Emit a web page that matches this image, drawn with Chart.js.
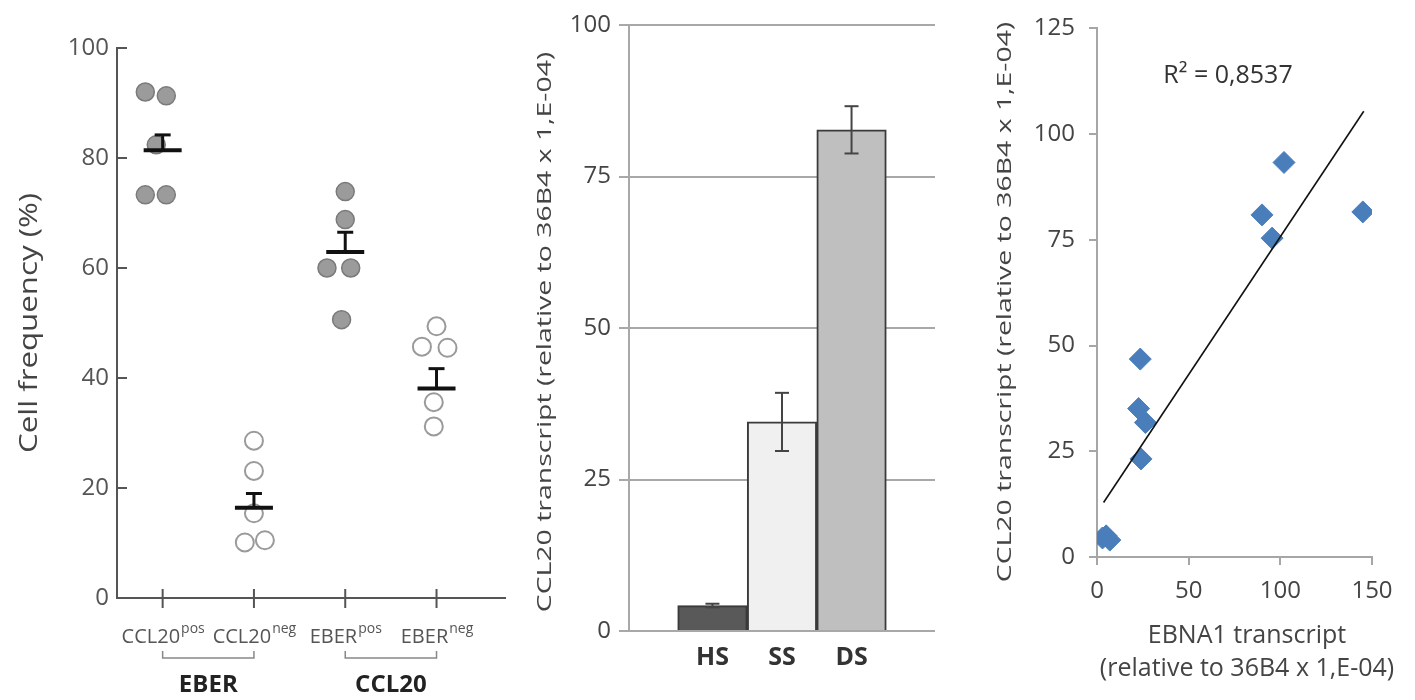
<!DOCTYPE html>
<html>
<head>
<meta charset="utf-8">
<script src="https://cdn.jsdelivr.net/npm/chart.js@4"></script>
<style>
  body { margin: 0; background: #fff; width: 1415px; height: 700px; position: relative; overflow: hidden; }
  canvas { position: absolute; top: 0; }
</style>
</head>
<body>
<canvas id="freq" width="520" height="700" style="left:0"></canvas>
<canvas id="bars" width="430" height="700" style="left:520px"></canvas>
<canvas id="corr" width="465" height="700" style="left:950px"></canvas>
<script>
const F = '"Open Sans", sans-serif';

// panel 1 : cell frequency
const groupNames = ["CCL20", "CCL20", "EBER", "EBER"];
const groupSup = ["pos", "neg", "pos", "neg"];
const pairNames = ["EBER", "CCL20"];
const ccl20Pos = [92.0, 91.3, 82.4, 73.3, 73.3];
const ccl20Neg = [28.6, 23.1, 15.4, 10.1, 10.5];
const eberPos = [73.9, 68.8, 60.0, 60.0, 50.6];
const eberNeg = [49.4, 45.7, 45.5, 35.6, 31.2];
// spread of the dots around the group (category units)
const spreadCcl20Pos = [-0.19, 0.04, -0.07, -0.19, 0.04];
const spreadCcl20Neg = [0, 0, 0, -0.1, 0.12];
const spreadEberPos = [0, 0, -0.2, 0.06, -0.04];
const spreadEberNeg = [0, -0.16, 0.12, -0.03, -0.03];
const freqMean = [81.4, 16.4, 62.9, 38.1];
const freqSem = [2.8, 2.6, 3.6, 3.6];

// panel 2 : CCL20 transcript per group
const barLabels = ["HS", "SS", "DS"];
const barValues = [4.2, 34.5, 82.7];
const barErrors = [0.3, 4.8, 3.9];

// panel 3 : CCL20 vs EBNA1
const ebna1 = [102, 90, 95.5, 145, 23.6, 22.7, 26.4, 24, 3, 5, 7];
const ccl20 = [93.3, 80.9, 75.4, 81.6, 46.8, 35.1, 31.8, 23.2, 4.5, 5, 4];
const trendX = [3.6, 145.5];
const trendY = [12.9, 105.4];
const r2Label = "R² = 0,8537";

const yTitle = "CCL20 transcript (relative to 36B4 x 1,E-04)";

function line(ctx, x1, y1, x2, y2) {
  ctx.beginPath(); ctx.moveTo(x1, y1); ctx.lineTo(x2, y2); ctx.stroke();
}

function vTitle(ctx, text, x, y, size, stretch, color) {
  ctx.save();
  ctx.translate(x, y);
  ctx.rotate(-Math.PI / 2);
  ctx.scale(stretch, 1);
  ctx.font = size + "px " + F;
  ctx.fillStyle = color;
  ctx.textAlign = "center";
  ctx.textBaseline = "middle";
  ctx.fillText(text, 0, 0);
  ctx.restore();
}

const pts = (vals, spread, g) => vals.map((v, i) => ({ x: g + spread[i], y: v }));

// ---------- panel 1 ----------
const freqDeco = {
  id: "freqDeco",
  afterDatasetsDraw(chart) {
    const { ctx, scales: { x, y } } = chart;
    ctx.save();
    ctx.strokeStyle = "#111";
    freqMean.forEach((m, i) => {
      const cx = x.getPixelForValue(i + 1);
      const my = y.getPixelForValue(m);
      const ty = y.getPixelForValue(m + freqSem[i]);
      ctx.lineWidth = 4;
      line(ctx, cx - 19, my, cx + 19, my);
      ctx.lineWidth = 3;
      line(ctx, cx, my, cx, ty);
      line(ctx, cx - 8, ty, cx + 8, ty);
    });
    ctx.restore();
  },
  afterDraw(chart) {
    const { ctx, chartArea: a, scales: { x, y } } = chart;
    ctx.save();
    ctx.strokeStyle = "#555";
    ctx.lineWidth = 2;
    for (let v = 20; v <= 100; v += 20) {
      const py = y.getPixelForValue(v);
      line(ctx, a.left, py, a.left + 10, py);
    }
    groupNames.forEach((name, i) => {
      const px = x.getPixelForValue(i + 1);
      line(ctx, px, a.bottom - 9, px, a.bottom + 10);
      // label with superscript
      ctx.fillStyle = "#555";
      ctx.font = "20px " + F;
      const wMain = ctx.measureText(name).width;
      ctx.font = "14px " + F;
      const wSup = ctx.measureText(groupSup[i]).width;
      const start = px - (wMain + wSup) / 2;
      ctx.textBaseline = "alphabetic";
      ctx.textAlign = "left";
      ctx.font = "20px " + F;
      ctx.fillText(name, start, a.bottom + 45);
      ctx.font = "14px " + F;
      ctx.fillText(groupSup[i], start + wMain + 1, a.bottom + 35);
    });
    ctx.strokeStyle = "#888";
    ctx.lineWidth = 1.5;
    pairNames.forEach((name, k) => {
      const x1 = x.getPixelForValue(2 * k + 1), x2 = x.getPixelForValue(2 * k + 2);
      const yb = a.bottom + 60;
      ctx.beginPath();
      ctx.moveTo(x1, yb - 7); ctx.lineTo(x1, yb); ctx.lineTo(x2, yb); ctx.lineTo(x2, yb - 7);
      ctx.stroke();
      ctx.fillStyle = "#222";
      ctx.font = "bold 24px " + F;
      ctx.textAlign = "center";
      ctx.fillText(name, (x1 + x2) / 2, a.bottom + 94);
    });
    ctx.restore();
    vTitle(ctx, "Cell frequency (%)", 30, (a.top + a.bottom) / 2, 25, 1.25, "#444");
  }
};

new Chart(document.getElementById("freq"), {
  type: "scatter",
  data: {
    datasets: [
      {
        data: pts(ccl20Pos, spreadCcl20Pos, 1).concat(pts(eberPos, spreadEberPos, 3)),
        pointRadius: 9, backgroundColor: "#9b9b9b", borderColor: "#7a7a7a", borderWidth: 1.5
      },
      {
        data: pts(ccl20Neg, spreadCcl20Neg, 2).concat(pts(eberNeg, spreadEberNeg, 4)),
        pointRadius: 9, backgroundColor: "#fff", borderColor: "#9a9a9a", borderWidth: 2
      }
    ]
  },
  options: {
    responsive: false, animation: false,
    layout: { padding: { left: 0, right: 15, top: 48, bottom: 0 } },
    plugins: { legend: { display: false }, tooltip: { enabled: false } },
    scales: {
      x: {
        type: "linear", min: 0.5, max: 4.75,
        ticks: { display: false },
        grid: { display: false, drawTicks: false },
        border: { color: "#555", width: 2 },
        afterFit: s => { s.height = 102; }
      },
      y: {
        min: 0, max: 100,
        ticks: { stepSize: 20, color: "#555", font: { family: F, size: 24 }, padding: 8 },
        grid: { display: false, drawTicks: false },
        border: { color: "#555", width: 2 },
        afterFit: s => { s.width = 117; }
      }
    }
  },
  plugins: [freqDeco]
});

// ---------- panel 2 ----------
const barDeco = {
  id: "barDeco",
  afterDatasetsDraw(chart) {
    const { ctx, scales: { x, y } } = chart;
    ctx.save();
    ctx.strokeStyle = "#444";
    ctx.lineWidth = 2;
    barValues.forEach((v, i) => {
      const cx = x.getPixelForValue(i + 1);
      const t = y.getPixelForValue(v + barErrors[i]);
      const b = y.getPixelForValue(v - barErrors[i]);
      line(ctx, cx, t, cx, b);
      line(ctx, cx - 7, t, cx + 7, t);
      line(ctx, cx - 7, b, cx + 7, b);
    });
    ctx.restore();
    vTitle(ctx, yTitle, 25, 332, 20, 1.42, "#444");
  }
};

new Chart(document.getElementById("bars"), {
  type: "bar",
  data: {
    datasets: [{
      data: barValues.map((v, i) => ({ x: i + 1, y: v })),
      backgroundColor: ["#595959", "#f0f0f0", "#bfbfbf"],
      borderColor: "#3a3a3a", borderWidth: 2,
      barPercentage: 1, categoryPercentage: 1
    }]
  },
  options: {
    responsive: false, animation: false,
    layout: { padding: { left: 0, right: 15, top: 25, bottom: 0 } },
    plugins: { legend: { display: false }, tooltip: { enabled: false } },
    scales: {
      x: {
        type: "linear", min: -0.2, max: 4.2, offset: false,
        ticks: {
          stepSize: 1, autoSkip: false, color: "#333", padding: 12,
          font: { family: F, size: 25, weight: "bold" },
          callback: v => barLabels[v - 1] ?? ""
        },
        grid: { display: false, drawTicks: false },
        border: { display: false },
        afterFit: s => { s.height = 69; }
      },
      y: {
        min: 0, max: 100,
        ticks: { stepSize: 25, color: "#444", font: { family: F, size: 24 }, padding: 8 },
        grid: { color: "#a8a8a8", lineWidth: 2, tickLength: 10 },
        border: { color: "#a8a8a8", width: 2 },
        afterFit: s => { s.width = 109; }
      }
    }
  },
  plugins: [barDeco]
});

// ---------- panel 3 ----------
const corrDeco = {
  id: "corrDeco",
  afterDraw(chart) {
    const { ctx } = chart;
    ctx.save();
    ctx.fillStyle = "#333";
    ctx.font = "25px " + F;
    ctx.textAlign = "center";
    ctx.textBaseline = "middle";
    ctx.fillText(r2Label, 278, 76);
    ctx.fillStyle = "#444";
    ctx.font = "25px " + F;
    ctx.fillText("EBNA1 transcript", 297, 636);
    ctx.fillText("(relative to 36B4 x 1,E-04)", 297, 669);
    ctx.restore();
    vTitle(ctx, yTitle, 55, 302, 20, 1.42, "#444");
  }
};

new Chart(document.getElementById("corr"), {
  type: "scatter",
  data: {
    datasets: [
      {
        type: "line",
        data: trendX.map((v, i) => ({ x: v, y: trendY[i] })),
        borderColor: "#111", borderWidth: 1.6, pointRadius: 0, fill: false
      },
      {
        data: ebna1.map((v, i) => ({ x: v, y: ccl20[i] })),
        pointStyle: "rectRot", pointRadius: 11,
        backgroundColor: "#4a7ebb", borderColor: "#4a7ebb", borderWidth: 1
      }
    ]
  },
  options: {
    responsive: false, animation: false,
    layout: { padding: { left: 0, right: 43, top: 15, bottom: 0 } },
    plugins: { legend: { display: false }, tooltip: { enabled: false } },
    scales: {
      x: {
        type: "linear", min: 0, max: 150,
        ticks: { stepSize: 50, color: "#444", font: { family: F, size: 24 }, padding: 12 },
        grid: { drawOnChartArea: false, color: "#a6a6a6", lineWidth: 2, tickLength: 8 },
        border: { color: "#a6a6a6", width: 2 },
        afterFit: s => { s.height = 143; }
      },
      y: {
        min: 0, max: 125,
        ticks: { stepSize: 25, color: "#444", font: { family: F, size: 24 }, padding: 14 },
        grid: { drawOnChartArea: false, color: "#a6a6a6", lineWidth: 2, tickLength: 8 },
        border: { color: "#a6a6a6", width: 2 },
        afterFit: s => { s.width = 147; }
      }
    }
  },
  plugins: [corrDeco]
});
</script>
</body>
</html>
